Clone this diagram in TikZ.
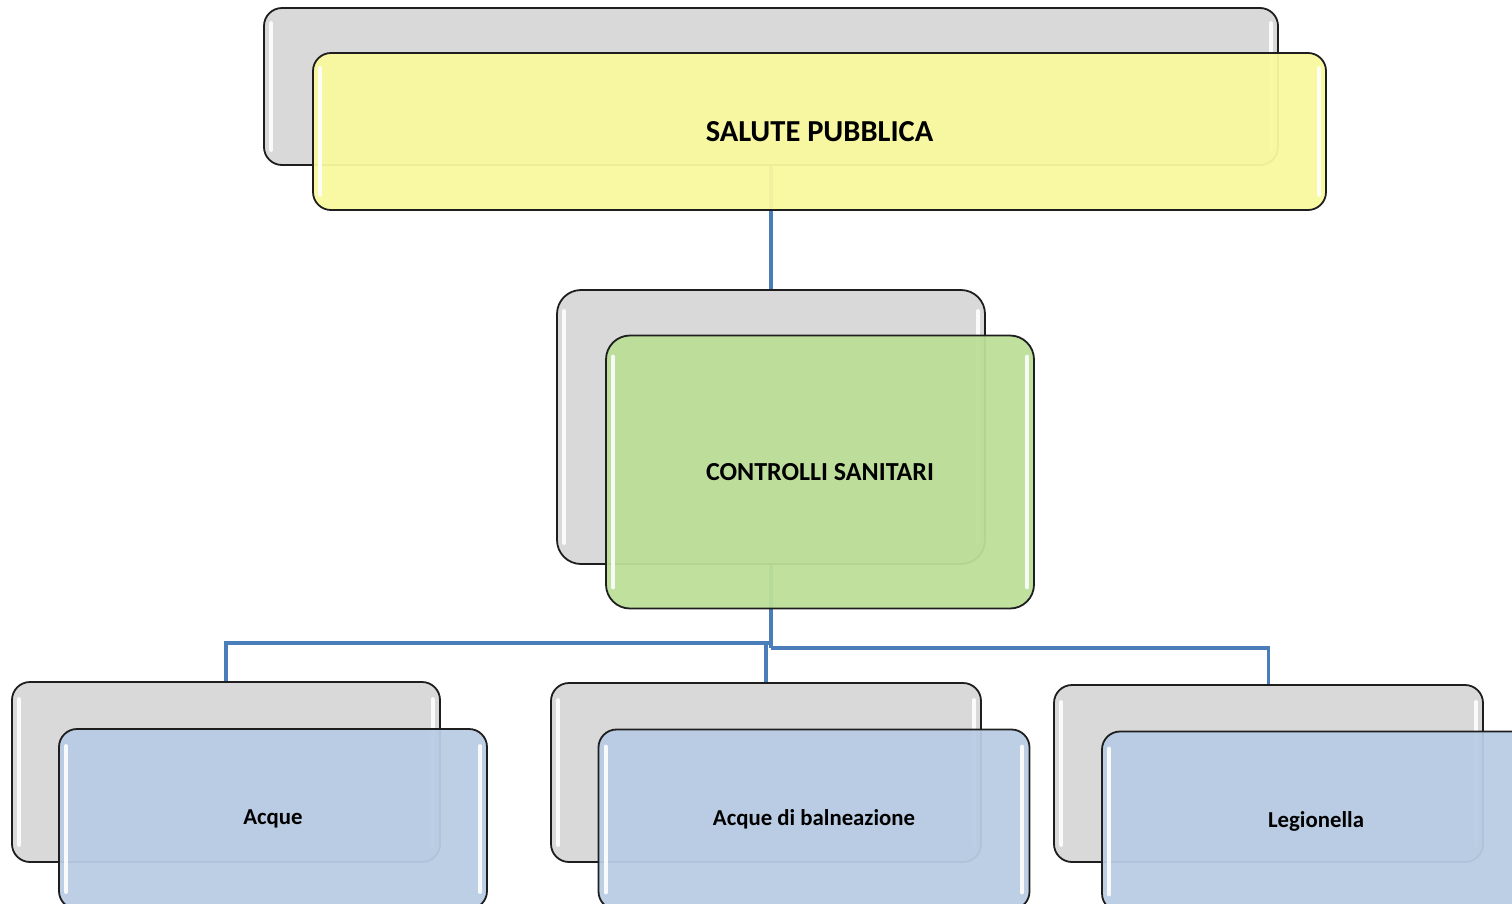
\documentclass[tikz,border=0pt]{standalone}
\usepackage{fontspec}
\setmainfont{Carlito}
\usetikzlibrary{positioning}
\definecolor{backgray}{HTML}{D9D9D9}
\definecolor{frontyellow}{HTML}{F9F99E}
\definecolor{frontgreen}{HTML}{BCDF98}
\definecolor{frontblue}{HTML}{B9CCE4}
\definecolor{linkblue}{HTML}{4A7EBB}
\definecolor{edge}{HTML}{1E1E1E}
\tikzset{
  backbox/.style={draw=edge, line width=1.8pt, fill=backgray, rounded corners=#1, inner sep=0pt},
  backbox/.default=18pt,
  frontbox/.style={draw=edge, line width=1.8pt, fill opacity=0.95, text opacity=1, rounded corners=18pt, inner sep=0pt, font=\bfseries},
  link/.style={draw=linkblue, line width=3.5pt},
  gloss/.style={draw=white, line width=4pt, line cap=round, opacity=0.9}
}
\newcommand\glossit[2]{%
  \draw[gloss] ([shift={(8,#2)}]#1.north west) -- ([shift={(8,-#2)}]#1.south west);
  \draw[gloss] ([shift={(-8,#2)}]#1.north east) -- ([shift={(-8,-#2)}]#1.south east);}
\begin{document}
\begin{tikzpicture}[x=1pt,y=-1pt]
\useasboundingbox (0,0) rectangle (1512,903);
\clip (0,0) rectangle (1512,903);
% back boxes
\node[backbox, minimum width=1014pt, minimum height=157pt] (g1) at (771,86.5) {};
\node[backbox=24pt, minimum width=428pt, minimum height=274pt] (g2) at (771,427) {};
\node[backbox, minimum width=428pt, minimum height=180pt] (g3) at (226,772) {};
\node[backbox, minimum width=430pt, minimum height=179pt] (g4) at (766,772.5) {};
\node[backbox, minimum width=429pt, minimum height=177pt] (g5) at (1268.5,773.5) {};
\glossit{g1}{16}
\glossit{g2}{22}
\glossit{g3}{18}
\glossit{g4}{18}
\glossit{g5}{18}
% connectors
\coordinate (jl) at (771,643);
\coordinate (jm) at (766,643);
\coordinate (jr) at (771,648);
\draw[link] (g1.south) -- (g2.north);
\draw[link] (g2.south) -- (jr);
\draw[link] (jl) -| (g3.north);
\draw[link] (jr) -| (g5.north);
\draw[link] (jm) -- (g4.north);
% front boxes
\node[frontbox, fill=frontyellow, minimum width=1013pt, minimum height=157pt, font=\bfseries\fontsize{30.5}{36}\selectfont] (salute) at (819.5,131.5) {SALUTE PUBBLICA};
\node[frontbox, rounded corners=24pt, fill=frontgreen, minimum width=428pt, minimum height=273pt, font=\bfseries\fontsize{26}{31}\selectfont] (controlli) at (820,472) {CONTROLLI SANITARI};
\node[frontbox, fill=frontblue, minimum width=428pt, minimum height=180pt, font=\bfseries\fontsize{22.8}{27}\selectfont] (acque) at (273,819) {Acque};
\node[frontbox, fill=frontblue, minimum width=431pt, minimum height=180pt, font=\bfseries\fontsize{22.8}{27}\selectfont] (balneazione) at (814,819.5) {Acque di balneazione};
\node[frontbox, fill=frontblue, minimum width=428pt, minimum height=180pt, font=\bfseries\fontsize{22.8}{27}\selectfont] (legionella) at (1316,821.5) {Legionella};
\glossit{salute}{16}
\glossit{controlli}{22}
\glossit{acque}{18}
\glossit{balneazione}{18}
\glossit{legionella}{18}
\end{tikzpicture}
\end{document}
